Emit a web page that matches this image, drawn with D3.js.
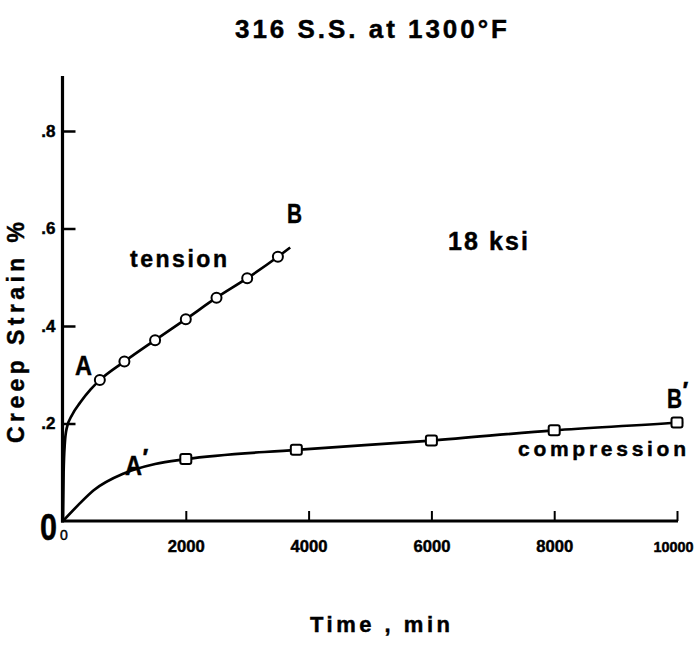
<!DOCTYPE html>
<html>
<head>
<meta charset="utf-8">
<script src="https://cdn.jsdelivr.net/npm/d3@7"></script>
<style>
  html, body { margin: 0; padding: 0; background: #fff; }
  svg { display: block; }
  text { font-family: "Liberation Sans", Arial, sans-serif; font-weight: bold; fill: #000;
         stroke: #000; stroke-width: 0.45px; }
</style>
</head>
<body>
<svg id="chart" width="697" height="646"></svg>
<script>
// Creep of 316 stainless steel at 1300 F, 18 ksi: tension vs compression
const tensionTime   = [0, 10, 30, 60, 150, 280, 450, 600, 1000, 1500, 2000, 2500, 3000, 3500, 3700];
const tensionStrain = [0, 0.10, 0.16, 0.19, 0.218, 0.243, 0.270, 0.289, 0.327, 0.371, 0.414, 0.458, 0.498, 0.542, 0.561];
const tensionMarkTime   = [600, 1000, 1500, 2000, 2500, 3000, 3500];
const tensionMarkStrain = [0.289, 0.327, 0.371, 0.414, 0.458, 0.498, 0.542];

const compressionTime   = [0, 250, 500, 1000, 1500, 2000, 3800, 6000, 8000, 10000, 10100];
const compressionStrain = [0, 0.033, 0.063, 0.098, 0.117, 0.127, 0.146, 0.165, 0.186, 0.202, 0.203];
const compressionMarkTime   = [2000, 3800, 6000, 8000, 10000];
const compressionMarkStrain = [0.127, 0.146, 0.165, 0.186, 0.202];

const xTicks = [2000, 4000, 6000, 8000, 10000];
const xTickLabels = ["2000", "4000", "6000", "8000", "10000"];
const yTicks = [0.2, 0.4, 0.6, 0.8];
const yTickLabels = [".2", ".4", ".6", ".8"];

const svg = d3.select("#chart");
const x = d3.scaleLinear().domain([0, 10000]).range([63, 677]);
const y = d3.scaleLinear().domain([0, 0.8]).range([521, 131]);
const yAxisTop = 0.913;

// axis ticks and labels
const xAxis = d3.axisBottom(x).tickValues(xTicks)
  .tickFormat((d, i) => xTickLabels[i]).tickSizeInner(-10).tickSizeOuter(0).tickPadding(20);
const gx = svg.append("g").attr("transform", `translate(0,${y(0)})`).call(xAxis);
gx.select(".domain").remove();
gx.selectAll(".tick line").attr("stroke", "#000").attr("stroke-width", 2);
gx.selectAll(".tick text").attr("font-size", (d, i) => xTickLabels[i].length > 4 ? 15 : 16)
  .attr("font-family", "Liberation Sans")
  .attr("font-weight", "bold").attr("fill", "#000")
  .attr("textLength", (d, i) => xTickLabels[i].length > 4 ? 40 : 37)
  .attr("lengthAdjust", "spacingAndGlyphs");
gx.selectAll(".tick").filter(d => d === 10000).select("text").attr("dx", -4);

const yAxis = d3.axisLeft(y).tickValues(yTicks)
  .tickFormat((d, i) => yTickLabels[i]).tickSizeInner(-13).tickSizeOuter(0).tickPadding(7);
const gy = svg.append("g").attr("transform", `translate(${x(0) - 0.5},0)`).call(yAxis);
gy.select(".domain").remove();
gy.selectAll(".tick line").attr("stroke", "#000").attr("stroke-width", 2.5);
gy.selectAll(".tick text").attr("font-size", 17).attr("font-family", "Liberation Sans")
  .attr("font-weight", "bold").attr("fill", "#000");

// axis lines
svg.append("line").attr("x1", x(0) - 0.5).attr("x2", x(0) - 0.5)
  .attr("y1", y(0) + 1.5).attr("y2", y(yAxisTop))
  .attr("stroke", "#000").attr("stroke-width", 3.2);
svg.append("line").attr("x1", x(0) - 2).attr("x2", x(10000) + 1)
  .attr("y1", y(0)).attr("y2", y(0))
  .attr("stroke", "#000").attr("stroke-width", 3);

// curves
const line = d3.line().x(d => x(d[0])).y(d => y(d[1])).curve(d3.curveMonotoneX);
svg.append("path").datum(d3.zip(tensionTime, tensionStrain))
  .attr("d", line).attr("fill", "none").attr("stroke", "#000").attr("stroke-width", 2.7);
svg.append("path").datum(d3.zip(compressionTime, compressionStrain))
  .attr("d", line).attr("fill", "none").attr("stroke", "#000").attr("stroke-width", 2.7);

// markers
svg.append("g").selectAll("circle").data(d3.zip(tensionMarkTime, tensionMarkStrain)).join("circle")
  .attr("cx", d => x(d[0])).attr("cy", d => y(d[1])).attr("r", 5)
  .attr("fill", "#fff").attr("stroke", "#000").attr("stroke-width", 2);
svg.append("g").selectAll("rect").data(d3.zip(compressionMarkTime, compressionMarkStrain)).join("rect")
  .attr("x", d => x(d[0]) - 5.5).attr("y", d => y(d[1]) - 5).attr("width", 11).attr("height", 10)
  .attr("rx", 2).attr("fill", "#fff").attr("stroke", "#000").attr("stroke-width", 2);

// text helper
function label(str, px, py, size, opts = {}) {
  const t = svg.append("text").attr("x", px).attr("y", py).attr("font-size", size)
    .attr("text-anchor", opts.anchor || "start").text(str);
  if (opts.width) t.attr("textLength", opts.width).attr("lengthAdjust", opts.adjust || "spacing");
  if (opts.rotate) t.attr("transform", `rotate(${opts.rotate},${px},${py})`);
  return t;
}

// point label with a prime mark at its upper right
function primed(str, px, py, size, w) {
  const t = svg.append("text").attr("x", px).attr("y", py).attr("font-size", size);
  t.append("tspan").attr("textLength", w).attr("lengthAdjust", "spacingAndGlyphs").text(str);
  t.append("tspan").attr("dx", 0.5).attr("dy", -9).attr("font-size", size * 0.9).text("′");
  return t;
}

label("316 S.S. at 1300°F", 235, 38, 26, { width: 272 });
label("tension", 130, 267, 23, { width: 97 });
label("18 ksi", 448, 250, 25, { width: 80 });
label("compression", 518, 456, 21, { width: 168 });
label("A", 75, 375, 27, { width: 17, adjust: "spacingAndGlyphs" });
label("B", 287, 223, 27, { width: 15, adjust: "spacingAndGlyphs" });
primed("A", 125, 475, 27, 17);
primed("B", 667, 408, 27, 15);

// origin: big zero for the strain axis, small zero for the time axis
const origin = svg.append("text").attr("x", 40).attr("y", 540).attr("font-size", 37);
origin.append("tspan").attr("textLength", 17).attr("lengthAdjust", "spacingAndGlyphs").text("0");
origin.append("tspan").attr("dx", 3).attr("font-size", 14).attr("font-weight", "normal").text("0");

label("Time , min", 310, 632, 22, { width: 140 });
label("Creep Strain %", 24, 443, 23, { width: 221, rotate: -90 });
</script>
</body>
</html>
